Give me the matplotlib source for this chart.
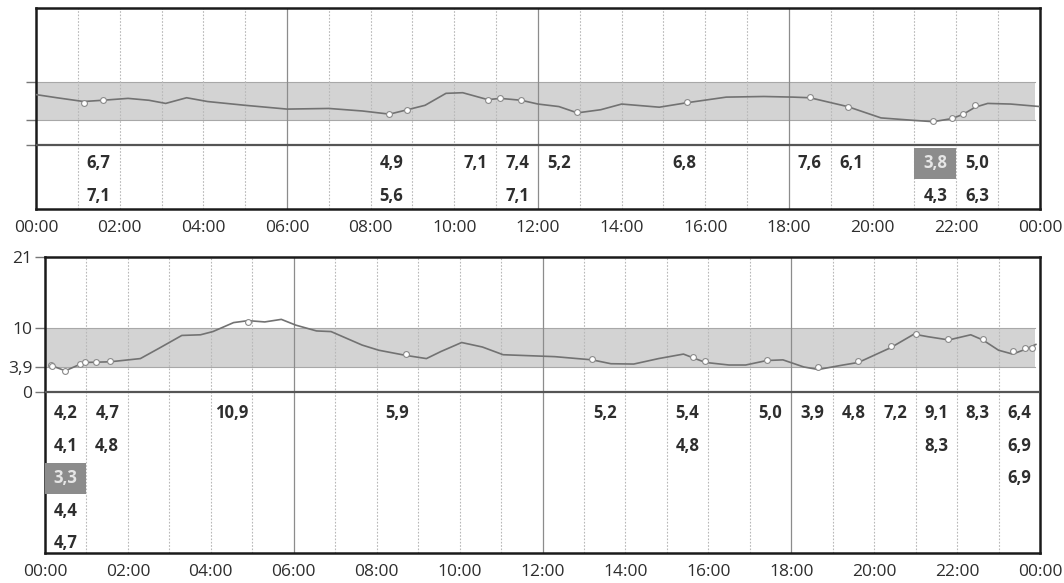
import numpy as np
import matplotlib
matplotlib.use('Agg')
from matplotlib import pyplot as plt
from matplotlib.patches import Rectangle

plt.rcParams['font.family'] = ['Open Sans', 'DejaVu Sans']

# target range (mmol/l)
band_low = 3.9
band_high = 10.0
hours = list(range(0, 25, 2))
time_labels = [f'{h % 24:02d}:00' for h in hours]

# day 1: sensor trace and finger-stick readings
top_trace_h = [0.0, 0.5, 1.14, 1.59, 2.2, 2.7, 3.1, 3.6, 4.1, 5.0, 6.0, 7.0, 7.8, 8.45, 8.88,
               9.3, 9.8, 10.2, 10.8, 11.1, 11.6, 12.0, 12.5, 12.94, 13.5, 14.0, 14.9, 15.55,
               16.5, 17.4, 18.1, 18.5, 19.4, 20.2, 21.0, 21.45, 21.9, 22.17, 22.45, 22.75,
               23.3, 24.0]
top_trace_v = [8.0, 7.5, 6.9, 7.1, 7.4, 7.1, 6.6, 7.5, 6.9, 6.3, 5.7, 5.8, 5.4, 4.9, 5.6,
               6.3, 8.2, 8.3, 7.2, 7.4, 7.1, 6.5, 6.1, 5.1, 5.6, 6.5, 6.0, 6.7,
               7.6, 7.7, 7.6, 7.5, 6.1, 4.3, 3.9, 3.7, 4.2, 4.9, 6.0, 6.6,
               6.5, 6.1]
top_meas_h = [1.14, 1.59, 8.45, 8.88, 10.8, 11.1, 11.6, 12.94, 15.55, 18.5, 19.4,
              21.45, 21.9, 22.17, 22.45]
top_meas_v = [6.7, 7.1, 4.9, 5.6, 7.1, 7.4, 7.1, 5.2, 6.8, 7.6, 6.1,
              3.8, 4.3, 5.0, 6.3]

# day 2
bot_trace_h = [0.16, 0.49, 0.84, 0.99, 1.57, 2.3, 2.75, 3.3, 3.75, 4.05, 4.55, 4.9, 5.3,
               5.7, 6.05, 6.55, 6.9, 7.65, 8.05, 8.7, 9.2, 9.55, 10.05, 10.55, 11.05,
               12.3, 13.2, 13.65, 14.2, 14.8, 15.4, 15.64, 15.93, 16.5, 16.9, 17.41,
               17.8, 18.3, 18.65, 19.25, 19.62, 20.4, 20.96, 21.3, 21.8, 22.33, 22.62,
               23.0, 23.34, 23.63, 23.9]
bot_trace_v = [4.1, 3.3, 4.3, 4.6, 4.7, 5.2, 6.8, 8.8, 8.9, 9.4, 10.8, 11.1, 10.9,
               11.3, 10.4, 9.5, 9.4, 7.3, 6.5, 5.7, 5.2, 6.3, 7.7, 7.0, 5.8,
               5.5, 5.0, 4.4, 4.35, 5.2, 5.9, 5.3, 4.6, 4.2, 4.2, 4.9,
               5.0, 3.9, 3.5, 4.2, 4.6, 6.9, 9.0, 8.6, 8.1, 8.9, 8.1,
               6.5, 5.9, 6.6, 7.4]
bot_meas_h = [0.14, 0.18, 0.49, 0.84, 0.97, 1.24, 1.57, 4.9, 8.7, 13.2, 15.64, 15.93,
              17.41, 18.65, 19.62, 20.41, 21.02, 21.79, 22.62, 23.34, 23.63, 23.8]
bot_meas_v = [4.2, 4.1, 3.3, 4.4, 4.7, 4.7, 4.8, 10.9, 5.9, 5.2, 5.4, 4.8,
              5.0, 3.9, 4.8, 7.2, 9.1, 8.3, 8.3, 6.4, 6.9, 6.9]

TXT = '#2e2e2e'


def fmt(v):
    return f'{v:.1f}'.replace('.', ',')


def draw_day(ax, trace_h, trace_v, meas_h, meas_v, ppu, row0, row_step, ylim):
    # ppu: pixels per mmol/l, rows placed in pixels below the zero line
    ax.set_xlim(0, 24)
    ax.set_ylim(*ylim)

    ax.axhspan(band_low, band_high, xmin=0, xmax=0.995, color='#d3d3d3', lw=0, zorder=1)
    for y in (band_low, band_high):
        ax.axhline(y, xmin=0, xmax=0.995, color='#a8a8a8', lw=0.8, zorder=1.5)

    for h in range(1, 24):
        if h % 6 == 0:
            ax.axvline(h, color='#8c8c8c', lw=0.9, zorder=2)
        else:
            ax.axvline(h, color='#b8b8b8', lw=0.8, ls=(0, (1.5, 1.5)), zorder=2)

    ax.axhline(0, color='#555555', lw=1.6, zorder=3)

    ax.plot(trace_h, trace_v, color='#727272', lw=1.2, zorder=4)
    ax.plot(meas_h, meas_v, 'o', ms=4.2, mfc='white', mec='#8a8a8a', mew=0.8, zorder=5)

    # readings table: one column per hour, stacked in order
    counts = {}
    for h, v in zip(meas_h, meas_v):
        cell = int(h)
        k = counts.get(cell, 0)
        counts[cell] = k + 1
        y = -(row0 + k * row_step) / ppu
        low = v < band_low
        if low:
            ax.add_patch(Rectangle((cell, y - 15.5 / ppu), 1, 31 / ppu,
                                   facecolor='#8c8c8c', edgecolor='none', zorder=3.5))
        ax.text(cell + 0.5, y, fmt(v), ha='center', va='center', fontsize=12,
                fontweight='bold', color='#e6e6e6' if low else TXT, zorder=6)

    for s in ax.spines.values():
        s.set_color('#1a1a1a')
        s.set_linewidth(1.8)
    ax.set_xticks(hours)
    ax.set_xticklabels(time_labels)
    ax.tick_params(axis='x', length=0, pad=8, labelsize=12.5, labelcolor=TXT)
    ax.tick_params(axis='y', length=7, width=1, color='#777777', labelsize=12.5,
                   labelcolor=TXT, pad=2)


fig = plt.figure(figsize=(10.64, 5.83), dpi=100)
W, H = 1064, 583

ax1 = fig.add_axes([36 / W, (H - 209) / H, 1004 / W, 201 / H])
draw_day(ax1, top_trace_h, top_trace_v, top_meas_h, top_meas_v,
         6.3, 18, 33, (-64 / 6.3, 137 / 6.3))
ax1.set_yticks([0, band_low, band_high])
ax1.set_yticklabels([])

ax2 = fig.add_axes([45 / W, (H - 553) / H, 995 / W, 296 / H])
draw_day(ax2, bot_trace_h, bot_trace_v, bot_meas_h, bot_meas_v,
         6.43, 21, 32.5, (-161 / 6.43, 21))
ax2.set_yticks([0, band_low, band_high, 21])
ax2.set_yticklabels(['0', '3,9', '10', '21'])

fig.savefig('out.png', dpi=100)
